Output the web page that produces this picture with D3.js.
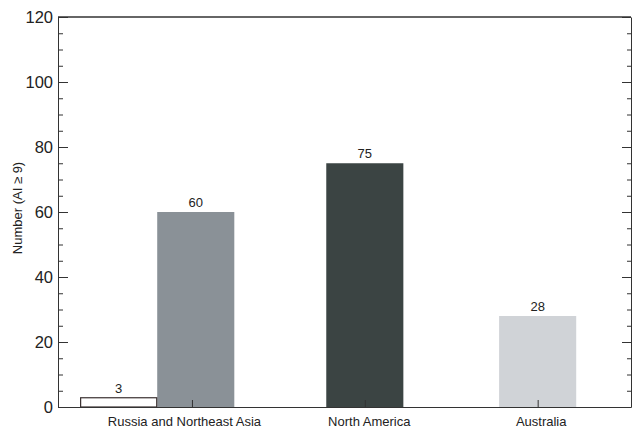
<!DOCTYPE html>
<html>
<head>
<meta charset="utf-8">
<script src="https://cdn.jsdelivr.net/npm/d3@7"></script>
<style>
  body { margin: 0; background: #fff; }
  text { font-family: "Liberation Sans", Arial, sans-serif; fill: #222; }
  .axis path, .axis line { stroke: #333; }
</style>
</head>
<body>
<div id="chart"></div>
<script>
// chart data
let categories = ["Russia and Northeast Asia", "North America", "Australia"];
let counts = [60, 75, 28];
let barColors = ["#8a9197", "#3b4443", "#d0d3d7"];
// the small extra bar next to Russia
let extraCount = 3;
let yTicks = [0, 20, 40, 60, 80, 100, 120];

let svgWidth = 632;
let svgHeight = 428;

let margin = { top: 17, right: 1, bottom: 21, left: 58 };
let width = svgWidth - margin.left - margin.right;
let height = svgHeight - margin.top - margin.bottom;

let svg = d3.select("#chart")
  .append("svg")
  .attr("width", svgWidth)
  .attr("height", svgHeight);

let chartGroup = svg.append("g")
  .attr("transform", `translate(${margin.left}, ${margin.top})`);

// categories sit at 1, 2, 3 on a linear x scale
let xScale = d3.scaleLinear()
  .domain([0.225, 3.54])
  .range([0, width]);

let yScale = d3.scaleLinear()
  .domain([0, 120])
  .range([height, 0]);

let barWidth = 0.446;
let mainOffset = [0.022, 0, 0];
// label nudges in px, as the labels in the original are not quite centred
let labelNudge = [-8, 4, 3];

// bars
chartGroup.selectAll("rect.main")
  .data(counts)
  .enter()
  .append("rect")
  .attr("class", "main")
  .attr("x", (d, i) => xScale(i + 1 + mainOffset[i] - barWidth / 2))
  .attr("width", xScale(barWidth) - xScale(0))
  .attr("y", d => yScale(d))
  .attr("height", d => yScale(0) - yScale(d))
  .attr("fill", (d, i) => barColors[i]);

// white bar for Russia
let extraLeft = 1 + mainOffset[0] - barWidth / 2 - barWidth;
chartGroup.append("rect")
  .attr("x", xScale(extraLeft) + 0.5)
  .attr("width", xScale(barWidth) - xScale(0) - 1)
  .attr("y", yScale(extraCount) + 0.5)
  .attr("height", yScale(0) - yScale(extraCount) - 0.5)
  .attr("fill", "#fff")
  .attr("stroke", "#3a3030")
  .attr("stroke-width", 1.2);

// value labels
chartGroup.selectAll("text.val")
  .data(counts)
  .enter()
  .append("text")
  .attr("class", "val")
  .attr("x", (d, i) => xScale(i + 1 + mainOffset[i]))
  .attr("y", d => yScale(d) - 5)
  .attr("text-anchor", "middle")
  .style("font-size", "13px")
  .text(d => d);

chartGroup.append("text")
  .attr("x", xScale(extraLeft + barWidth / 2))
  .attr("y", yScale(extraCount) - 4)
  .attr("text-anchor", "middle")
  .style("font-size", "13px")
  .text(extraCount);

// axes
let minorTicks = d3.range(0, 121, 5).filter(v => v % 20 !== 0);

chartGroup.append("g")
  .attr("class", "axis")
  .call(d3.axisLeft(yScale).tickValues(minorTicks).tickSize(-5).tickFormat(""))
  .call(g => g.select(".domain").remove());

chartGroup.append("g")
  .attr("class", "axis")
  .call(d3.axisLeft(yScale).tickValues(yTicks).tickSize(-10).tickPadding(5)
    .tickSizeOuter(0))
  .call(g => g.selectAll("text").style("font-size", "16.5px"));

chartGroup.append("g")
  .attr("class", "axis")
  .attr("transform", `translate(${width}, 0)`)
  .call(d3.axisRight(yScale).tickValues(minorTicks).tickSize(-4).tickFormat(""))
  .call(g => g.select(".domain").remove());

chartGroup.append("g")
  .attr("class", "axis")
  .attr("transform", `translate(${width}, 0)`)
  .call(d3.axisRight(yScale).tickValues(yTicks).tickSize(-9).tickFormat("")
    .tickSizeOuter(0));

chartGroup.append("g")
  .attr("class", "axis")
  .attr("transform", `translate(0, ${height})`)
  .call(d3.axisBottom(xScale).tickValues([1, 2, 3]).tickSize(-7).tickPadding(10)
    .tickSizeOuter(0).tickFormat((d, i) => categories[i]))
  .call(g => g.selectAll("text")
    .style("font-size", "13px")
    .attr("dx", (d, i) => labelNudge[i]));

chartGroup.append("line")
  .attr("x1", 0)
  .attr("x2", width)
  .attr("y1", 0)
  .attr("y2", 0)
  .attr("stroke", "#333")
  .attr("stroke-width", 1.5);

// y axis label
chartGroup.append("text")
  .attr("transform", "rotate(-90)")
  .attr("x", -(height / 2) + 4)
  .attr("y", -36)
  .attr("text-anchor", "middle")
  .style("font-size", "13px")
  .text("Number (AI \u2265 9)");
</script>
</body>
</html>
